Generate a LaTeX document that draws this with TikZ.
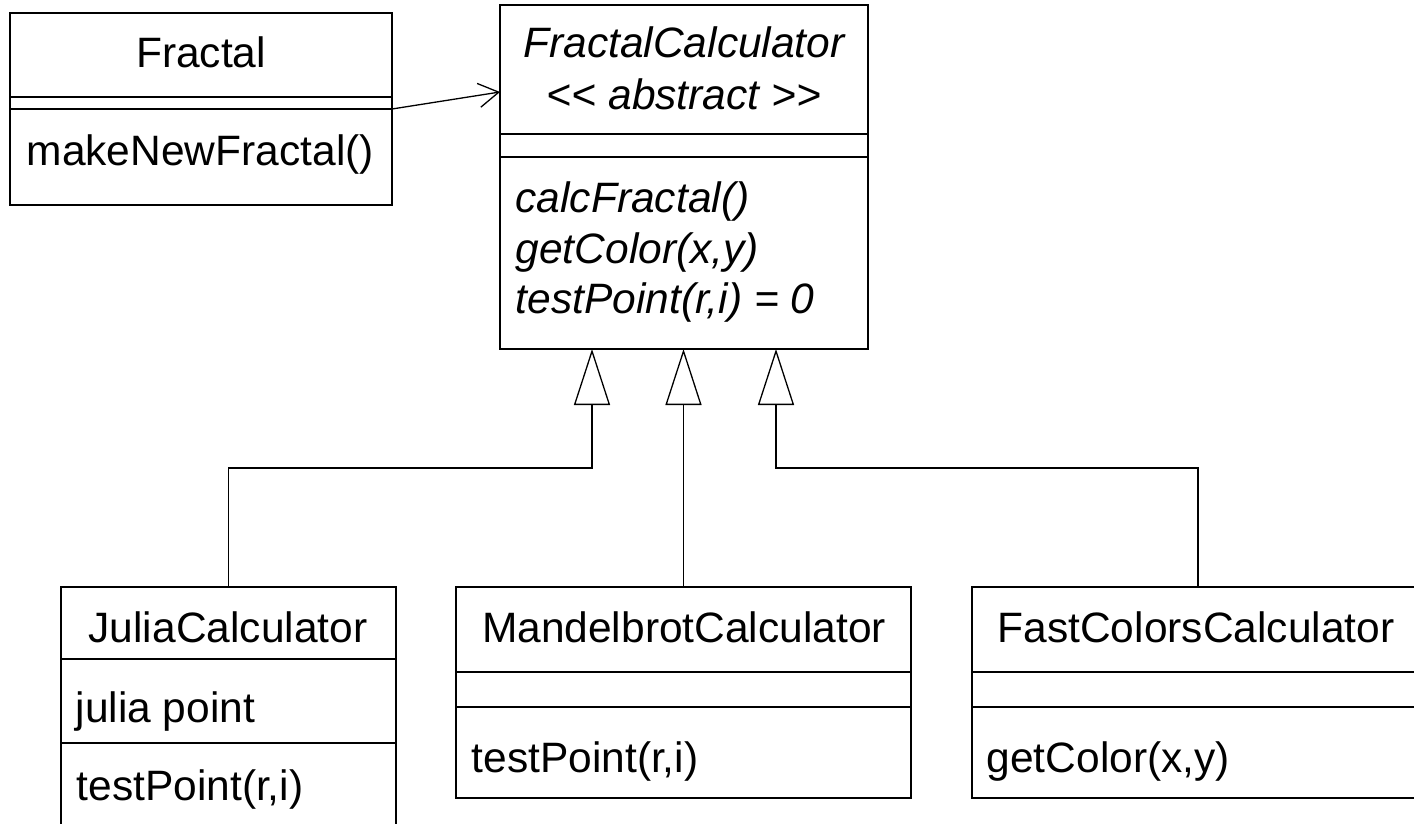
\documentclass[tikz,border=0pt]{standalone}
\usepackage{fontspec}
\setmainfont{Liberation Sans}
\usetikzlibrary{arrows.meta,calc}
\begin{document}
\begin{tikzpicture}[x=1pt,y=-1pt,line width=1.3pt,
  cls/.style={draw,rectangle,anchor=north west,inner sep=0pt,outer sep=0pt},
  ttl/.style={anchor=base,inner sep=0pt,font=\fontsize{42.5}{50}\selectfont},
  ittl/.style={ttl,font=\fontsize{42.5}{50}\selectfont\itshape},
  member/.style={anchor=base west,inner sep=0pt,font=\fontsize{42.5}{50}\selectfont},
  imember/.style={member,font=\fontsize{42.5}{50}\selectfont\itshape},
  gen/.style={-{Triangle[open,length=56pt,width=36pt,fill=white]},line join=miter},
  assoc/.style={-{Straight Barb[length=20pt,width=24pt]}}]
\useasboundingbox (0,0) rectangle (1414,824);
\clip (0,0) rectangle (1414,824);

% Fractal
\node[cls,minimum width=382pt,minimum height=192pt] (fractal) at (10,13) {};
\draw ($(fractal.north west)+(0,84)$) -- ($(fractal.north east)+(0,84)$);
\draw ($(fractal.north west)+(0,96)$) -- ($(fractal.north east)+(0,96)$);
\node[ttl] (fractalT) at (201,68) {Fractal};
\node[member] (fractalM) at (26,165) {makeNewFractal()};

% FractalCalculator
\node[cls,minimum width=368pt,minimum height=344pt] (calc) at (500,5) {};
\draw ($(calc.north west)+(0,129)$) -- ($(calc.north east)+(0,129)$);
\draw ($(calc.north west)+(0,152)$) -- ($(calc.north east)+(0,152)$);
\node[ittl] (calcT) at (684,58) {FractalCalculator};
\node[ittl] (calcS) at (684,110) {<\kern0pt< abstract >\kern0pt>};
\node[imember] (calcM1) at (515,212) {calcFractal()};
\node[imember] (calcM2) at (515,263) {getColor(x,y)};
\node[imember] (calcM3) at (515,313) {testPoint(r,i) = 0};

% JuliaCalculator
\node[cls,minimum width=335pt,minimum height=250pt] (julia) at (61,587) {};
\draw ($(julia.north west)+(0,72)$) -- ($(julia.north east)+(0,72)$);
\draw ($(julia.north west)+(0,156)$) -- ($(julia.north east)+(0,156)$);
\node[ttl] (juliaT) at (228,642) {JuliaCalculator};
\node[member] (juliaA) at (75,722) {julia point};
\node[member] (juliaM) at (76,800) {testPoint(r,i)};

% MandelbrotCalculator
\node[cls,minimum width=455pt,minimum height=211pt] (mandel) at (456,587) {};
\draw ($(mandel.north west)+(0,85)$) -- ($(mandel.north east)+(0,85)$);
\draw ($(mandel.north west)+(0,120)$) -- ($(mandel.north east)+(0,120)$);
\node[ttl] (mandelT) at (684,642) {MandelbrotCalculator};
\node[member] (mandelM) at (471,772) {testPoint(r,i)};

% FastColorsCalculator
\node[cls,minimum width=452pt,minimum height=211pt] (fast) at (972,587) {};
\draw ($(fast.north west)+(0,85)$) -- ($(fast.north east)+(0,85)$);
\draw ($(fast.north west)+(0,120)$) -- ($(fast.north east)+(0,120)$);
\node[ttl] (fastT) at (1196,642) {FastColorsCalculator};
\node[member] (fastM) at (986,772) {getColor(x,y)};

% connectors
\coordinate (t1) at ($(calc.south)+(-92,0)$);
\coordinate (t3) at ($(calc.south)+(92,0)$);
\coordinate (bar) at (0,468);
\draw[gen] (julia.north) |- (bar -| t1) -- (t1);
\draw[gen] (mandel.north) -- (mandel.north |- calc.south);
\draw[gen] (fast.north) |- (bar -| t3) -- (t3);

\coordinate (as1) at ($(fractal.north east)+(0,96)$);
\coordinate (as2) at ($(calc.north west)+(0,87)$);
\draw[assoc] (as1) -- (as2);
\end{tikzpicture}
\end{document}
